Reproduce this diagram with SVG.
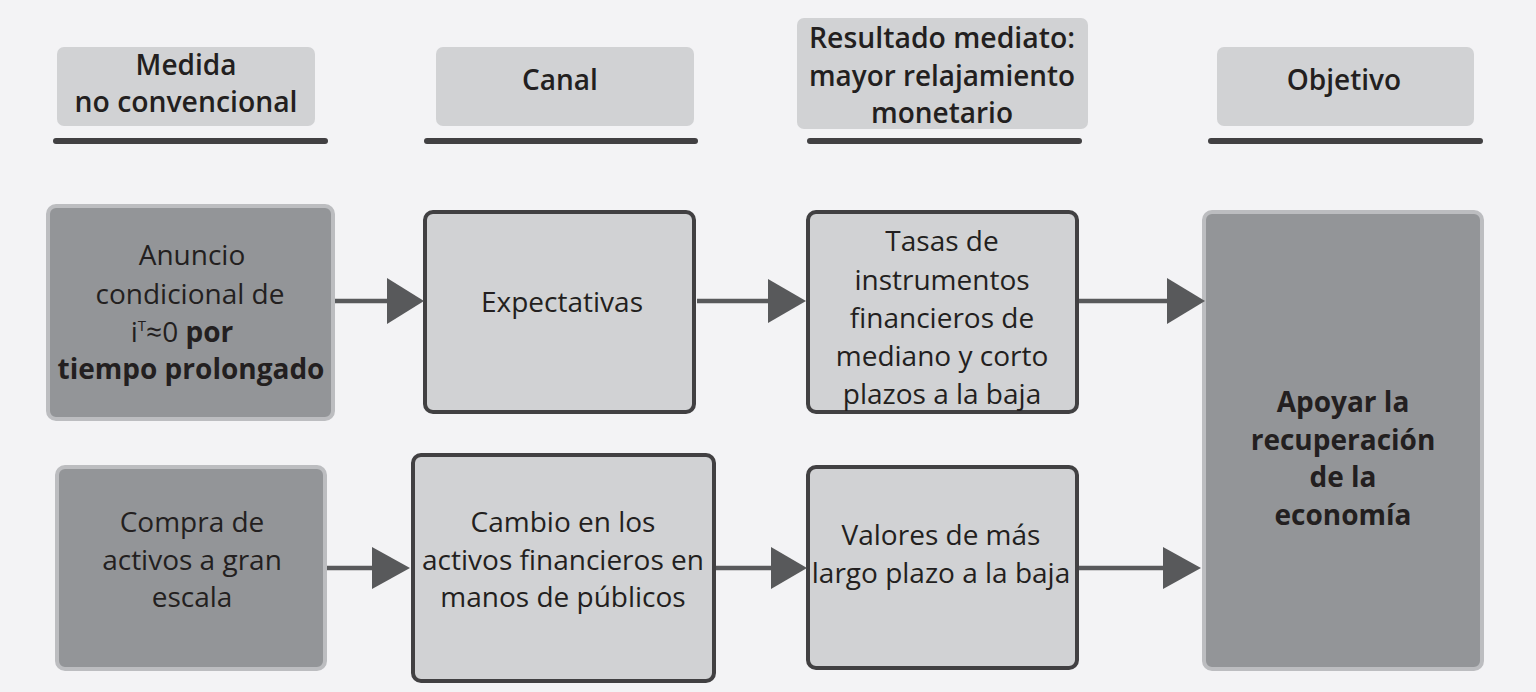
<svg xmlns="http://www.w3.org/2000/svg" width="1536" height="692" viewBox="0 0 1536 692">
<defs>
<style>
.bg{fill:#f3f3f5}
.hdr{fill:#d1d2d4}
.bar{stroke:#414042;stroke-width:6;stroke-linecap:round}
.lite{fill:#d1d2d4;stroke:#414042;stroke-width:4}
.dark{fill:#939598;stroke:#bcbdc0;stroke-width:4}
.ht{font-family:"Open Sans","Liberation Sans",sans-serif;font-weight:600;font-size:28px;fill:#231f20;text-anchor:middle}
.bt{font-family:"Open Sans","Liberation Sans",sans-serif;font-weight:400;font-size:28px;fill:#231f20;text-anchor:middle}
.bb{font-weight:700}
.conn line{stroke:#58595b;stroke-width:4.5}
.conn polygon{fill:#58595b}
</style>
</defs>
<rect class="bg" x="0" y="0" width="1536" height="692"/>

<g id="header-medida">
<rect class="hdr" x="57" y="47" width="258" height="79" rx="7"/>
<text class="ht" x="186" y="75">Medida</text>
<text class="ht" x="186" y="112" textLength="223" lengthAdjust="spacingAndGlyphs">no convencional</text>
<line class="bar" x1="56" y1="141" x2="325" y2="141"/>
</g>
<g id="header-canal">
<rect class="hdr" x="436" y="47" width="258" height="79" rx="7"/>
<text class="ht" x="560" y="90">Canal</text>
<line class="bar" x1="427" y1="141" x2="695" y2="141"/>
</g>
<g id="header-resultado">
<rect class="hdr" x="797" y="18" width="291" height="111" rx="7"/>
<text class="ht" x="942" y="48" textLength="266" lengthAdjust="spacingAndGlyphs">Resultado mediato:</text>
<text class="ht" x="942" y="86" textLength="266" lengthAdjust="spacingAndGlyphs">mayor relajamiento</text>
<text class="ht" x="942" y="123">monetario</text>
<line class="bar" x1="810" y1="141" x2="1079" y2="141"/>
</g>
<g id="header-objetivo">
<rect class="hdr" x="1217" y="47" width="257" height="79" rx="7"/>
<text class="ht" x="1344" y="90">Objetivo</text>
<line class="bar" x1="1211" y1="141" x2="1480" y2="141"/>
</g>

<g id="node-anuncio">
<rect class="dark" x="48" y="206" width="285" height="213" rx="8"/>
<text class="bt" x="192" y="265">Anuncio</text>
<text class="bt" x="190" y="304">condicional de</text>
<text class="bt" x="182" y="342">i<tspan font-size="15" dy="-11">T</tspan><tspan dy="11">≈0 </tspan><tspan class="bb">por</tspan></text>
<text class="bt bb" x="191" y="379">tiempo prolongado</text>
</g>
<g id="node-expectativas">
<rect class="lite" x="425" y="212" width="269" height="200" rx="8"/>
<text class="bt" x="562" y="312">Expectativas</text>
</g>
<g id="node-tasas">
<rect class="lite" x="808" y="212" width="269" height="200" rx="8"/>
<text class="bt" x="942" y="251">Tasas de</text>
<text class="bt" x="942" y="290">instrumentos</text>
<text class="bt" x="942" y="328">financieros de</text>
<text class="bt" x="942" y="366">mediano y corto</text>
<text class="bt" x="942" y="404">plazos a la baja</text>
</g>
<g id="node-objetivo">
<rect class="dark" x="1204" y="212" width="278" height="457" rx="8"/>
<text class="bt bb" x="1343" y="412">Apoyar la</text>
<text class="bt bb" x="1343" y="450">recuperación</text>
<text class="bt bb" x="1343" y="487">de la</text>
<text class="bt bb" x="1343" y="525">economía</text>
</g>
<g id="node-compra">
<rect class="dark" x="57" y="467" width="268" height="202" rx="8"/>
<text class="bt" x="192" y="532">Compra de</text>
<text class="bt" x="192" y="570">activos a gran</text>
<text class="bt" x="192" y="607">escala</text>
</g>
<g id="node-cambio">
<rect class="lite" x="413" y="455" width="301" height="226" rx="8"/>
<text class="bt" x="563" y="532">Cambio en los</text>
<text class="bt" x="563" y="570">activos financieros en</text>
<text class="bt" x="563" y="607">manos de públicos</text>
</g>
<g id="node-valores">
<rect class="lite" x="808" y="467" width="269" height="201" rx="8"/>
<text class="bt" x="941" y="545">Valores de más</text>
<text class="bt" x="941" y="583">largo plazo a la baja</text>
</g>

<g id="connectors" class="conn">
<line x1="335" y1="301" x2="390" y2="301"/>
<polygon points="387,278 424,301 387,324"/>
<line x1="697" y1="301" x2="770" y2="301"/>
<polygon points="768,279 806,301 768,323"/>
<line x1="1079" y1="301" x2="1170" y2="301"/>
<polygon points="1167,278 1205,301 1167,324"/>
<line x1="327" y1="568" x2="374" y2="568"/>
<polygon points="372,547 410,568 372,589"/>
<line x1="716" y1="568" x2="773" y2="568"/>
<polygon points="771,547 807,568 771,589"/>
<line x1="1079" y1="568" x2="1165" y2="568"/>
<polygon points="1163,547 1201,568 1163,589"/>
</g>
</svg>
